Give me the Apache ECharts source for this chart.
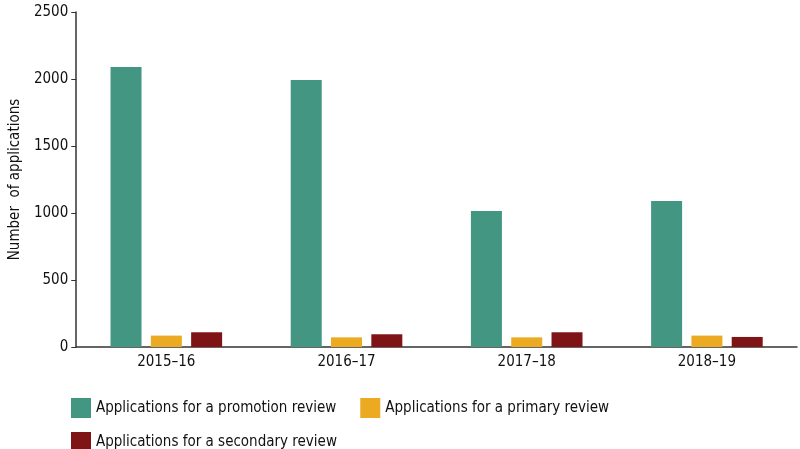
<!DOCTYPE html><html><head><meta charset="utf-8">
<script src="https://cdn.jsdelivr.net/npm/echarts@6/dist/echarts.min.js"></script>
<style>html,body{margin:0;padding:0;background:#fff}#c{width:800px;height:449px}</style></head><body><div id="c"></div>
<script>
const categories=['2015–16','2016–17','2017–18','2018–19'];
const promotion=[2090,1993,1015,1090];
const primary=[85,72,72,85];
const secondary=[110,95,110,75];
const yTicks=[0,500,1000,1500,2000,2500];
const F="'DejaVu Sans Condensed','Liberation Sans Narrow',sans-serif";
const chart=echarts.init(document.getElementById('c'));
chart.setOption({
 animation:false,
 textStyle:{fontFamily:F,color:'#111'},
 grid:{left:72,right:3,top:12,bottom:102},
 legend:[{data:['Applications for a promotion review','Applications for a primary review'],left:66,top:393,itemWidth:20,itemHeight:20,itemGap:24,icon:'rect',textStyle:{fontFamily:F,fontSize:15,color:'#111'}},
  {data:['Applications for a secondary review'],left:66,top:427,itemWidth:20,itemHeight:20,icon:'rect',textStyle:{fontFamily:F,fontSize:15,color:'#111'}}],
 xAxis:{type:'category',data:categories,axisLine:{lineStyle:{color:'#333',width:1.5}},axisTick:{show:false},axisLabel:{fontSize:15,color:'#111',fontFamily:F,margin:8}},
 yAxis:{type:'value',min:0,max:2500,interval:500,name:'Number  of applications',nameLocation:'middle',nameGap:50,nameTextStyle:{fontSize:15,color:'#111',fontFamily:F},
  axisLine:{show:true,lineStyle:{color:'#333',width:1.5}},axisTick:{show:true,length:5},splitLine:{show:false},axisLabel:{fontSize:15,color:'#111',fontFamily:F,margin:8,formatter:v=>yTicks.includes(v)?String(v):''}},
 series:[
  {name:'Applications for a promotion review',type:'bar',data:promotion,barWidth:31,barGap:'30%',itemStyle:{color:'#429682'}},
  {name:'Applications for a primary review',type:'bar',data:primary,barWidth:31,itemStyle:{color:'#EBAA22'}},
  {name:'Applications for a secondary review',type:'bar',data:secondary,barWidth:31,itemStyle:{color:'#7E1416'}}
 ]
});
</script></body></html>
